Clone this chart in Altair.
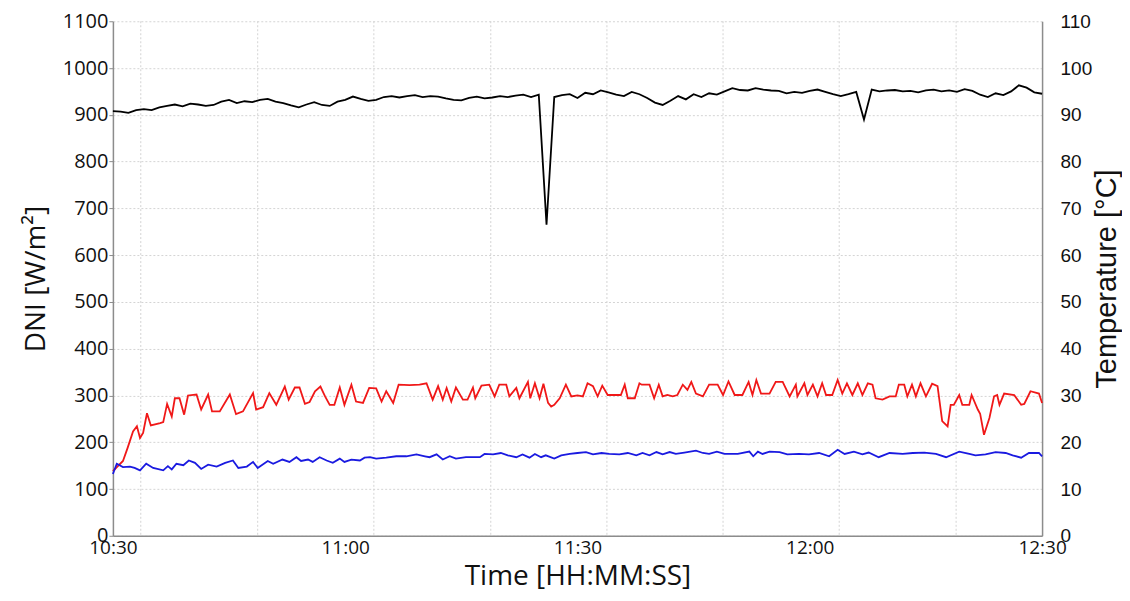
import altair as alt
import pandas as pd

# ---------------- data ----------------
dni_minutes = list(range(121))
dni_values = [908, 907, 904, 910, 912, 910, 916, 919, 922, 918,
              924, 922, 919, 921, 928, 932, 925, 929, 927, 932,
              934, 928, 925, 920, 916, 922, 927, 921, 919, 928,
              932, 939, 934, 930, 932, 938, 940, 937, 940, 942,
              938, 940, 939, 935, 932, 931, 936, 939, 935, 937,
              940, 938, 941, 943, 938, 943, 665, 938, 942, 944,
              936, 947, 944, 952, 948, 943, 940, 949, 944, 936,
              926, 921, 930, 940, 933, 944, 938, 946, 943, 950,
              957, 953, 952, 957, 954, 952, 951, 946, 949, 947,
              951, 954, 949, 944, 940, 944, 949, 890, 954, 950,
              952, 953, 950, 951, 948, 952, 954, 950, 952, 949,
              955, 951, 943, 938, 946, 942, 950, 963, 958, 948,
              945]

red_minutes = [0.0, 1.3, 1.9, 2.6, 3.1, 3.5, 3.9, 4.4, 4.9, 6.1, 6.5, 7.0, 7.6, 8.0, 8.6,
               9.2, 9.7, 10.8, 11.4, 12.3, 12.8, 13.8, 15.1, 15.9, 16.8, 18.1, 18.5, 19.4,
               20.2, 21.1, 22.2, 22.7, 23.5, 24.1, 24.8, 25.4, 26.1, 26.8, 27.4, 28.0, 28.6,
               29.3, 29.9, 30.8, 31.4, 32.3, 33.1, 34.0, 34.7, 35.3, 36.2, 36.9, 38.3, 39.6,
               40.5, 41.3, 42.0, 42.6, 43.1, 43.7, 44.3, 45.2, 45.8, 46.5, 46.8, 47.6, 48.6,
               49.3, 49.9, 50.8, 51.2, 52.1, 52.5, 53.6, 53.9, 54.5, 55.1, 55.6, 56.2, 56.6,
               57.0, 57.7, 58.5, 59.2, 60.0, 60.7, 61.3, 62.0, 62.6, 63.2, 63.9, 65.0, 65.6,
               66.1, 66.5, 67.4, 68.0, 68.3, 69.3, 69.9, 70.5, 71.0, 71.6, 72.3, 72.9, 73.6,
               74.2, 74.7, 75.3, 76.2, 77.0, 78.1, 78.8, 79.5, 80.3, 81.3, 82.1, 82.6, 83.1,
               83.7, 84.8, 85.6, 86.5, 87.4, 88.2, 88.4, 89.3, 89.7, 90.4, 91.0, 91.6, 92.1,
               92.9, 93.6, 94.2, 94.8, 95.5, 96.2, 96.8, 97.5, 98.1, 98.5, 99.4, 100.3, 101.1,
               101.5, 102.2, 102.6, 103.2, 103.7, 104.3, 105.0, 105.8, 106.5, 107.1, 107.8,
               108.2, 108.6, 109.3, 109.7, 110.6, 110.9, 111.7, 112.0, 112.5, 113.2, 113.8,
               114.2, 114.5, 115.1, 116.4, 117.3, 117.7, 118.5, 119.6, 120.0]
red_temps = [13.8, 16.0, 18.8, 22.3, 23.4, 20.9, 22.0, 26.2, 23.6, 24.1, 24.3, 28.2, 25.5, 29.4, 29.4,
             25.9, 30.0, 30.2, 27.0, 30.2, 26.6, 26.6, 30.2, 26.0, 26.6, 30.5, 27.0, 27.5,
             30.5, 28.0, 31.9, 29.1, 31.7, 31.7, 28.2, 28.6, 30.9, 31.9, 29.8, 28.0, 28.0,
             31.7, 28.0, 32.3, 28.7, 28.4, 31.6, 31.5, 28.7, 30.9, 28.4, 32.3, 32.2, 32.3,
             32.6, 29.1, 32.0, 29.1, 31.6, 28.7, 31.7, 29.1, 29.1, 31.7, 29.4, 32.1, 32.3,
             29.8, 32.3, 32.3, 29.8, 31.6, 29.4, 32.9, 29.4, 32.6, 29.4, 32.5, 28.4, 27.6,
             28.0, 29.4, 32.3, 29.8, 30.0, 29.8, 32.6, 32.0, 29.8, 32.1, 30.1, 30.1, 30.1,
             32.3, 29.4, 29.4, 32.6, 32.3, 32.3, 29.4, 32.3, 29.8, 30.1, 29.8, 30.1, 32.3,
             31.2, 32.9, 30.4, 29.8, 32.3, 32.3, 30.1, 33.0, 30.1, 30.1, 32.9, 30.1, 33.3,
             30.4, 30.4, 32.9, 32.9, 29.8, 32.3, 29.8, 32.6, 30.1, 32.3, 29.8, 32.6, 30.1,
             30.1, 33.3, 30.4, 32.6, 30.1, 32.6, 30.1, 32.6, 32.3, 29.4, 29.1, 29.8, 29.8,
             32.3, 32.3, 29.8, 32.3, 29.8, 32.6, 29.8, 32.5, 32.0, 24.5, 23.4,
             28.0, 28.0, 30.1, 28.0, 28.0, 30.1, 27.0, 26.1, 21.6, 25.2, 29.8,
             30.1, 28.0, 30.4, 30.1, 28.0, 28.2, 30.9, 30.4, 28.4]

blue_minutes = [0.0, 0.5, 1.3, 2.2, 2.8, 3.5, 4.3, 5.2, 6.5, 7.1, 7.6, 8.2, 9.1, 9.8, 10.6, 11.4,
                12.3, 13.4, 14.5, 15.5, 16.2, 17.3, 18.1, 18.7, 20.0, 20.7, 21.9, 22.8, 23.7,
                24.3, 25.2, 25.8, 26.7, 27.6, 28.4, 29.3, 29.9, 30.8, 31.9, 32.5, 33.2, 34.0,
                35.3, 36.6, 37.9, 39.2, 40.3, 40.9, 41.8, 42.6, 43.5, 44.3, 45.6, 47.4, 48.0,
                49.1, 50.1, 51.0, 52.1, 52.9, 53.8, 54.5, 55.3, 55.9, 57.0, 57.9, 59.0, 60.0,
                61.1, 62.0, 63.1, 64.1, 65.4, 66.5, 67.6, 68.4, 69.3, 70.2, 71.0, 71.9, 72.7,
                73.8, 75.3, 76.2, 77.0, 78.0, 79.0, 80.7, 82.2, 82.7, 83.3, 83.9, 84.8, 86.1,
                87.1, 88.6, 89.9, 91.2, 92.5, 93.6, 94.5, 95.7, 96.8, 97.6, 98.9, 100.3, 102.0,
                103.3, 104.8, 106.3, 107.6, 109.3, 110.6, 111.4, 112.7, 114.0, 115.3, 116.2,
                117.3, 118.3, 119.6, 120.0]
blue_temps = [13.2, 15.4, 14.7, 14.8, 14.5, 14.0, 15.4, 14.5, 14.0, 14.9, 14.2, 15.4, 15.1, 16.1, 15.6, 14.3,
              15.2, 14.8, 15.6, 16.1, 14.5, 14.8, 15.8, 14.5, 16.0, 15.4, 16.3, 15.8, 16.8,
              16.0, 16.3, 15.8, 16.8, 16.1, 15.6, 16.5, 15.8, 16.3, 16.1, 16.7, 16.8, 16.5,
              16.7, 17.0, 17.0, 17.4, 17.0, 16.8, 17.4, 16.3, 17.0, 16.5, 16.8, 16.8, 17.5,
              17.4, 17.7, 17.2, 16.8, 17.4, 16.7, 17.5, 16.8, 17.2, 16.5, 17.2, 17.5, 17.7,
              17.9, 17.4, 17.7, 17.5, 17.4, 17.7, 17.2, 17.7, 17.2, 17.9, 17.4, 17.9, 17.5,
              17.8, 18.2, 17.7, 17.5, 18.0, 17.5, 17.5, 18.0, 17.0, 18.0, 17.5, 18.0, 17.9,
              17.4, 17.5, 17.4, 17.7, 17.0, 18.4, 17.5, 18.0, 17.4, 17.8, 16.8, 17.7, 17.5,
              17.7, 17.8, 17.5, 16.8, 18.0, 17.5, 17.2, 17.4, 17.9, 17.7, 17.2,
              16.7, 17.7, 17.7, 17.0]

x_tick_minutes = [0, 30, 60, 90, 120]
x_tick_labels = ["10:30", "11:00", "11:30", "12:00", "12:30"]
grid_minutes = [3.6, 18.7, 33.7, 48.8, 63.8, 78.8, 93.8, 108.9]
dni_ticks = list(range(0, 1101, 100))
temp_ticks = list(range(0, 111, 10))
series_names = ["Red", "Blue"]
series_colors = ["#f01818", "#1a1ae0"]

# ---------------- tables ----------------
dni_df = pd.DataFrame({"t": dni_minutes, "dni": dni_values})
temp_df = pd.concat([
    pd.DataFrame({"t": red_minutes, "temp": red_temps, "s": "Red"}),
    pd.DataFrame({"t": blue_minutes, "temp": blue_temps, "s": "Blue"}),
], ignore_index=True)
grid_df = pd.DataFrame({"t": grid_minutes})

label_expr = "[" + ",".join("'%s'" % s for s in x_tick_labels) + "][round(datum.value/30)]"

AX = "#8c8c8c"
x_scale = alt.Scale(domain=[0, 120], nice=False, zero=False)

x_axis = alt.Axis(values=x_tick_minutes, labelExpr=label_expr, title="Time [HH:MM:SS]",
                  grid=False, ticks=False, domainColor=AX, domainWidth=1.5,
                  labelFont="Open Sans", labelFontSize=19, labelColor="#111",
                  labelPadding=3, labelFlush=False, labelOverlap=False,
                  titleFont="Open Sans", titleFontSize=28, titleFontWeight="normal",
                  titleColor="#111", titlePadding=5)

vgrid = alt.Chart(grid_df).mark_rule(color="#d4d4d4", strokeDash=[2, 2], strokeWidth=1).encode(
    x=alt.X("t:Q", scale=x_scale, axis=x_axis)
)

dni_line = alt.Chart(dni_df).mark_line(color="#000000", strokeWidth=1.8).encode(
    x=alt.X("t:Q", scale=x_scale, axis=x_axis),
    y=alt.Y("dni:Q", scale=alt.Scale(domain=[0, 1100], nice=False),
            axis=alt.Axis(values=dni_ticks, format="d", title="DNI [W/m²]", orient="left",
                          grid=True, gridColor="#d4d4d4", gridDash=[2, 2], gridWidth=1,
                          domainColor=AX, domainWidth=1.5, tickColor=AX, tickSize=4,
                          labelFont="Open Sans", labelFontSize=20, labelColor="#111",
                          labelPadding=1, labelOverlap=False, labelFlush=False,
                          titleFont="Open Sans", titleFontSize=28, titleFontWeight="normal",
                          titleColor="#111", titlePadding=12)),
)

temp_lines = alt.Chart(temp_df).mark_line(strokeWidth=1.8).encode(
    x=alt.X("t:Q", scale=x_scale, axis=x_axis),
    y=alt.Y("temp:Q", scale=alt.Scale(domain=[0, 110], nice=False),
            axis=alt.Axis(values=temp_ticks, format="d", title="Temperature [°C]", orient="right",
                          grid=False, ticks=False, domainColor=AX, domainWidth=1.5,
                          labelFont="Liberation Sans", labelFontSize=19, labelColor="#111",
                          labelPadding=18, labelOverlap=False, labelFlush=False,
                          titleFont="Liberation Sans", titleFontSize=29, titleFontWeight="normal",
                          titleColor="#111", titleAngle=270, titleBaseline="top",
                          titlePadding=1)),
    color=alt.Color("s:N", scale=alt.Scale(domain=series_names, range=series_colors), legend=None),
    detail="s:N",
)

chart = alt.layer(vgrid, dni_line, temp_lines).resolve_scale(y="independent").properties(
    width=930, height=515,
    autosize=alt.AutoSizeParams(type="none"),
    padding={"left": 105, "top": 13, "right": 80, "bottom": 59},
    background="white",
).configure_view(stroke=None)

chart.save("out.html", embed_options={"renderer": "svg", "actions": False})
